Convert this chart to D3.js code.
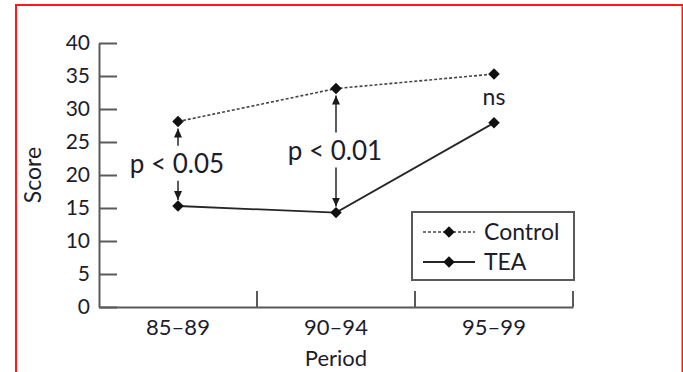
<!DOCTYPE html>
<html>
<head>
<meta charset="utf-8">
<script src="https://cdn.jsdelivr.net/npm/d3@7"></script>
<style>
  html, body { margin: 0; padding: 0; background: #fff; }
  svg { display: block; }
  text { font-family: Lato, "Open Sans", sans-serif; fill: #1c1c2a; }
</style>
</head>
<body>
<svg id="chart" width="683" height="372"></svg>
<script>
// Score by period for control and TEA groups
const periods = ["85–89", "90–94", "95–99"];
const controlScores = [28.1, 33.1, 35.3];
const teaScores = [15.3, 14.3, 27.9];
const yTicks = [0, 5, 10, 15, 20, 25, 30, 35, 40];
const comparisons = [
  { period: "85–89", label: "p < 0.05", arrows: true },
  { period: "90–94", label: "p < 0.01", arrows: true },
  { period: "95–99", label: "ns", arrows: false }
];
const seriesNames = ["Control", "TEA"];

const svg = d3.select("#chart");

// outer red frame
svg.append("rect")
  .attr("x", 16).attr("y", 5)
  .attr("width", 666.5).attr("height", 420)
  .attr("fill", "none").attr("stroke", "#ff1a1a").attr("stroke-width", 2);

const plot = { left: 99, right: 573, top: 43, bottom: 307 };

const x = d3.scaleBand().domain(periods).range([plot.left, plot.right]).padding(0);
const y = d3.scaleLinear().domain([0, 40]).range([plot.bottom, plot.top]);
const cx = d => x(d) + x.bandwidth() / 2;

const axisColor = "#5a5a5a";

// y axis with inward ticks
const yAxis = svg.append("g")
  .attr("transform", `translate(${plot.left},0)`)
  .call(d3.axisLeft(y).tickValues(yTicks).tickSizeInner(-18).tickSizeOuter(0).tickPadding(9));
yAxis.select(".domain").attr("stroke", axisColor).attr("stroke-width", 2);
yAxis.selectAll(".tick line").attr("stroke", axisColor).attr("stroke-width", 2);
yAxis.selectAll(".tick text").attr("font-size", 21).attr("font-family", "Lato, sans-serif")
  .attr("fill", "#1c1c2a");

// x axis: labels centred in bands
const xAxis = svg.append("g")
  .attr("transform", `translate(0,${plot.bottom})`)
  .call(d3.axisBottom(x).tickSize(0).tickPadding(12).tickSizeOuter(0));
xAxis.select(".domain").attr("stroke", axisColor).attr("stroke-width", 2);
xAxis.selectAll(".tick text").attr("font-size", 22).attr("font-family", "Lato, sans-serif")
  .attr("fill", "#1c1c2a");

// upward ticks at band boundaries
svg.append("g").selectAll("line")
  .data(periods)
  .join("line")
  .attr("x1", d => x(d) + x.bandwidth()).attr("x2", d => x(d) + x.bandwidth())
  .attr("y1", plot.bottom).attr("y2", plot.bottom - 16)
  .attr("stroke", axisColor).attr("stroke-width", 2);

// axis titles
svg.append("text")
  .attr("transform", `translate(41,${(plot.top + plot.bottom) / 2}) rotate(-90)`)
  .attr("text-anchor", "middle")
  .attr("font-size", 23)
  .text("Score");
svg.append("text")
  .attr("x", (plot.left + plot.right) / 2).attr("y", 366)
  .attr("text-anchor", "middle")
  .attr("font-size", 22)
  .text("Period");

// series lines
const line = d3.line().x(d => cx(d.p)).y(d => y(d.v));
const controlData = periods.map((p, i) => ({ p, v: controlScores[i] }));
const teaData = periods.map((p, i) => ({ p, v: teaScores[i] }));

svg.append("path").datum(controlData)
  .attr("d", line).attr("fill", "none")
  .attr("stroke", "#444").attr("stroke-width", 1.6).attr("stroke-dasharray", "3,2");
svg.append("path").datum(teaData)
  .attr("d", line).attr("fill", "none")
  .attr("stroke", "#262626").attr("stroke-width", 1.8);

const diamond = d3.symbol(d3.symbolSquare, 66);
function markers(data) {
  svg.append("g").selectAll("path")
    .data(data)
    .join("path")
    .attr("d", diamond)
    .attr("transform", d => `translate(${cx(d.p)},${y(d.v)}) rotate(45)`)
    .attr("fill", "#111");
}
markers(controlData);
markers(teaData);

// arrowhead marker
const defs = svg.append("defs");
defs.append("marker")
  .attr("id", "head")
  .attr("viewBox", "0 0 9 9")
  .attr("refX", 9).attr("refY", 4.5)
  .attr("markerWidth", 9).attr("markerHeight", 9)
  .attr("markerUnits", "userSpaceOnUse")
  .attr("orient", "auto")
  .append("path").attr("d", "M0,0.5 L9,4.5 L0,8.5 Z").attr("fill", "#1a1a1a");

// significance annotations
comparisons.forEach(c => {
  const i = periods.indexOf(c.period);
  const yc = y(controlScores[i]);
  const yt = y(teaScores[i]);
  const xm = cx(c.period);
  if (c.arrows) {
    const base = (yc + yt) / 2 + 9;
    svg.append("line")
      .attr("x1", xm).attr("x2", xm)
      .attr("y1", base - 27).attr("y2", yc + 7)
      .attr("stroke", "#333").attr("stroke-width", 1.6)
      .attr("marker-end", "url(#head)");
    svg.append("line")
      .attr("x1", xm).attr("x2", xm)
      .attr("y1", base + 8).attr("y2", yt - 6)
      .attr("stroke", "#333").attr("stroke-width", 1.6)
      .attr("marker-end", "url(#head)");
    svg.append("text")
      .attr("x", xm - 1).attr("y", base)
      .attr("text-anchor", "middle")
      .attr("font-size", 26)
      .text(c.label);
  } else {
    svg.append("text")
      .attr("x", xm).attr("y", (yc + yt) / 2 + 7)
      .attr("text-anchor", "middle")
      .attr("font-size", 23)
      .text(c.label);
  }
});

// legend
const lg = svg.append("g");
lg.append("rect")
  .attr("x", 412).attr("y", 212).attr("width", 162).attr("height", 68)
  .attr("fill", "#fff").attr("stroke", axisColor).attr("stroke-width", 2);
const rows = lg.selectAll("g.row")
  .data(seriesNames)
  .join("g")
  .attr("class", "row")
  .attr("transform", (d, i) => `translate(0,${232 + i * 30})`);
rows.append("line")
  .attr("x1", 423).attr("x2", 475)
  .attr("stroke", (d, i) => i === 0 ? "#444" : "#262626")
  .attr("stroke-width", (d, i) => i === 0 ? 1.6 : 1.8)
  .attr("stroke-dasharray", (d, i) => i === 0 ? "3,2" : null);
rows.append("path")
  .attr("d", diamond)
  .attr("transform", "translate(449,0) rotate(45)")
  .attr("fill", "#111");
rows.append("text")
  .attr("x", 484).attr("y", 8)
  .attr("font-size", 23)
  .text(d => d);
</script>
</body>
</html>
